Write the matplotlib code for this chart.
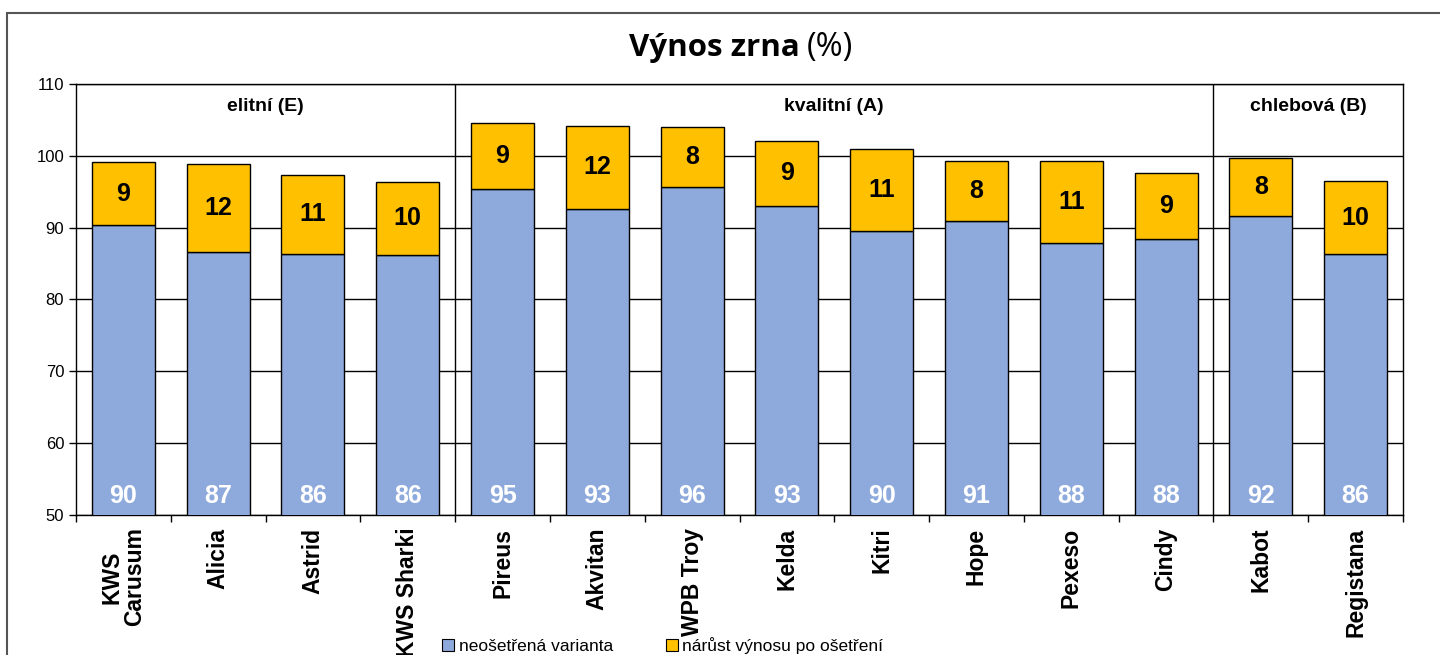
import matplotlib.pyplot as plt
from matplotlib.patches import Rectangle
from matplotlib.lines import Line2D
import numpy as np

plt.rcParams['font.family'] = ['Liberation Sans', 'DejaVu Sans']

# data
varieties = ['KWS\nCarusum', 'Alicia', 'Astrid', 'KWS Sharki', 'Pireus', 'Akvitan',
             'WPB Troy', 'Kelda', 'Kitri', 'Hope', 'Pexeso', 'Cindy', 'Kabot', 'Registana']
untreated = [90.4, 86.6, 86.3, 86.2, 95.4, 92.6, 95.6, 93.0, 89.6, 90.9, 87.9, 88.4, 91.6, 86.3]
increase = [8.7, 12.2, 11.1, 10.2, 9.2, 11.6, 8.4, 9.1, 11.4, 8.4, 11.4, 9.2, 8.1, 10.2]
groups = ['elitní (E)', 'kvalitní (A)', 'chlebová (B)']
group_sizes = [4, 8, 2]
legend_labels = ['neošetřená varianta', 'nárůst výnosu po ošetření']

blue = '#8EAADC'
gold = '#FFC000'

fig = plt.figure(figsize=(14.4, 6.55), dpi=100)
ax = fig.add_axes([0.05278, 0.21374, 0.92153, 0.65802])

x = np.arange(len(varieties))
w = 0.665
ax.bar(x, untreated, w, bottom=0, color=blue, edgecolor='black', linewidth=1, zorder=3)
ax.bar(x, increase, w, bottom=untreated, color=gold, edgecolor='black', linewidth=1, zorder=3)

for i in range(len(x)):
    ax.text(x[i], 52.7, f'{round(untreated[i])}', ha='center', va='center',
            color='white', fontsize=18, fontweight='bold', zorder=4)
    ax.text(x[i], untreated[i] + increase[i] / 2, f'{round(increase[i])}', ha='center',
            va='center', color='black', fontsize=18, fontweight='bold', zorder=4)

ax.set_ylim(50, 110)
ax.set_xlim(-0.5, len(varieties) - 0.5)
ax.set_yticks(np.arange(50, 111, 10))
ax.yaxis.grid(True, color='black', linewidth=1)
ax.set_axisbelow(True)
ax.tick_params(axis='y', labelsize=12, direction='out', length=5, width=1)

ax.set_xticks(x)
ax.set_xticklabels(varieties, rotation=90, fontsize=16.5, fontweight='bold',
                   va='top', ha='center', linespacing=0.95)
ax.tick_params(axis='x', which='major', length=0, pad=9)
ax.set_xticks(np.arange(-0.5, len(varieties), 1), minor=True)
ax.tick_params(axis='x', which='minor', length=5, width=1, direction='out')

for s in ax.spines.values():
    s.set_linewidth(1)
    s.set_color('black')

# group dividers and labels
start = 0
for g, n in zip(groups, group_sizes):
    end = start + n
    if end < len(varieties):
        ax.axvline(end - 0.5, color='black', linewidth=1, zorder=2)
    ax.text((start + end - 1) / 2, 106.8, g, ha='center', va='center',
            fontsize=14, fontweight='bold')
    start = end

# title
fig.text(0.5556, 0.927, 'Výnos zrna', ha='right', va='center', fontsize=22.5,
         fontweight='bold', family=['Open Sans', 'DejaVu Sans'])
fig.text(0.5605, 0.927, '(%)', ha='left', va='center', fontsize=23.5,
         family=['Open Sans', 'DejaVu Sans'])

# legend
handles = [Line2D([], [], marker='s', linestyle='', markersize=8, markerfacecolor=c,
                  markeredgecolor='black', markeredgewidth=0.8) for c in (blue, gold)]
fig.legend(handles, legend_labels, loc='center', bbox_to_anchor=(0.46, 0.015), ncol=2,
           frameon=False, fontsize=12.5, handletextpad=0.2, columnspacing=3.0,
           handlelength=0.8)

# outer frame
fig.add_artist(Rectangle((7 / 1440, -0.1), 1.2, 1.1 - 13 / 655, transform=fig.transFigure,
                         fill=False, edgecolor='#555555', linewidth=1.5))

fig.savefig('out.png', dpi=100)
